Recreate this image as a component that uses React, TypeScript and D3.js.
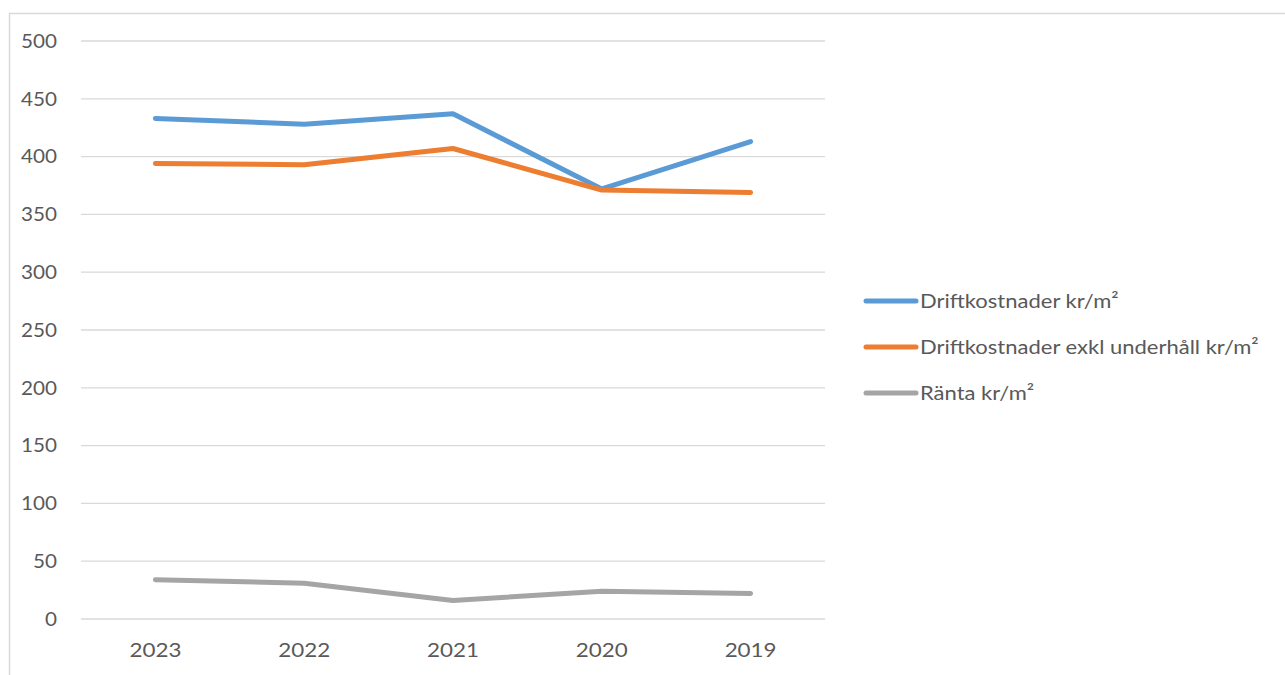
import React, { useEffect, useRef } from 'react';
import * as d3 from 'd3';

const years = ['2023', '2022', '2021', '2020', '2019'];
const drift = [433, 428, 437, 372, 413];
const driftExkl = [394, 393, 407, 371, 369];
const ranta = [34, 31, 16, 24, 22];
const yTicks = [0, 50, 100, 150, 200, 250, 300, 350, 400, 450, 500];

const seriesList = [
  { name: 'Driftkostnader kr/m²', values: drift, color: '#5B9BD5' },
  { name: 'Driftkostnader exkl underhåll kr/m²', values: driftExkl, color: '#ED7D31' },
  { name: 'Ränta kr/m²', values: ranta, color: '#A5A5A5' },
];

const W = 1285;
const H = 675;

export default function App() {
  const svgRef = useRef<SVGSVGElement>(null);

  useEffect(() => {
    if (!svgRef.current) return;
    const svg = d3.select(svgRef.current);
    svg.selectAll('*').remove();

    const font = 'Lato, "Open Sans", sans-serif';
    const plot = { left: 81, right: 825, top: 41, bottom: 619 };

    // chart area border, runs off the right and bottom edges
    svg.append('rect')
      .attr('x', 9.5).attr('y', 13.5)
      .attr('width', W).attr('height', H)
      .attr('fill', '#fff')
      .attr('stroke', '#d9d9d9')
      .attr('stroke-width', 1.5);

    const x = d3.scaleBand<string>()
      .domain(years)
      .range([plot.left, plot.right]);

    const y = d3.scaleLinear()
      .domain([0, 500])
      .range([plot.bottom, plot.top]);

    const g = svg.append('g');

    g.selectAll('line.grid')
      .data(yTicks)
      .join('line')
      .attr('class', 'grid')
      .attr('x1', plot.left).attr('x2', plot.right)
      .attr('y1', d => y(d)).attr('y2', d => y(d))
      .attr('stroke', '#d9d9d9')
      .attr('stroke-width', 1.3);

    // the source text is a bit wider than Lato, so stretch it sideways
    g.selectAll('text.ytick')
      .data(yTicks)
      .join('text')
      .attr('class', 'ytick')
      .attr('transform', d => `translate(57,${y(d)}) scale(1.06,1)`)
      .attr('dy', '0.35em')
      .attr('text-anchor', 'end')
      .attr('font-family', font)
      .attr('font-size', 19.5)
      .attr('fill', '#595959')
      .text(d => d);

    g.selectAll('text.xtick')
      .data(years)
      .join('text')
      .attr('class', 'xtick')
      .attr('transform', d => `translate(${(x(d) ?? 0) + x.bandwidth() / 2},657) scale(1.12,1)`)
      .attr('text-anchor', 'middle')
      .attr('font-family', font)
      .attr('font-size', 20)
      .attr('fill', '#595959')
      .text(d => d);

    const line = d3.line<number>()
      .x((_, i) => (x(years[i]) ?? 0) + x.bandwidth() / 2)
      .y(d => y(d));

    seriesList.forEach(s => {
      g.append('path')
        .datum(s.values)
        .attr('d', line)
        .attr('fill', 'none')
        .attr('stroke', s.color)
        .attr('stroke-width', 5)
        .attr('stroke-linejoin', 'round')
        .attr('stroke-linecap', 'round');
    });

    const legend = svg.append('g').attr('transform', 'translate(866,301)');
    seriesList.forEach((s, i) => {
      const row = legend.append('g').attr('transform', `translate(0,${i * 46})`);
      row.append('line')
        .attr('x1', 0).attr('x2', 50)
        .attr('stroke', s.color)
        .attr('stroke-width', 5)
        .attr('stroke-linecap', 'round');
      row.append('text')
        .attr('transform', 'translate(54,0) scale(1.1,1)')
        .attr('dy', '0.35em')
        .attr('font-family', font)
        .attr('font-size', 20)
        .attr('fill', '#595959')
        .text(s.name);
    });
  }, []);

  return (
    <svg
      ref={svgRef}
      width={W}
      height={H}
      style={{ position: 'absolute', left: 0, top: 0, background: '#fff' }}
    />
  );
}
